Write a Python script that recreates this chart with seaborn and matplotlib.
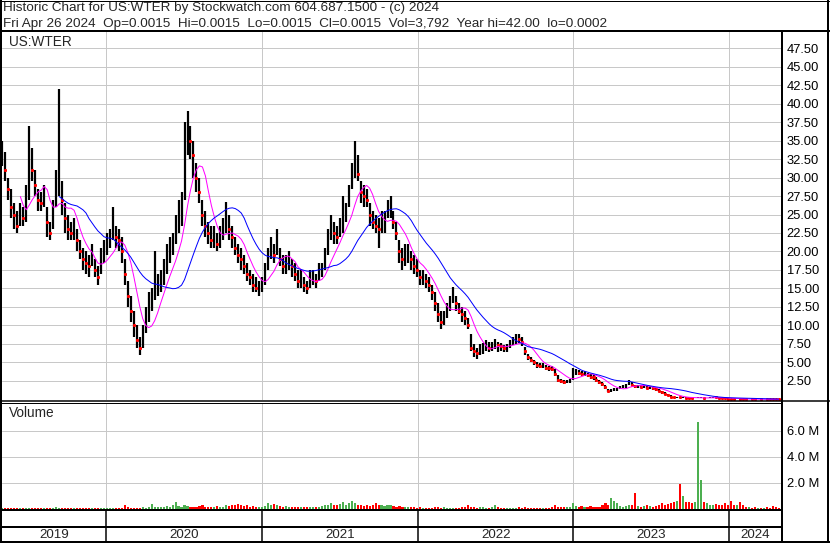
import numpy as np
import pandas as pd
import matplotlib
matplotlib.use("Agg")
import matplotlib.pyplot as plt
import matplotlib.ticker as mticker
from matplotlib.lines import Line2D
import seaborn as sns

# weekly bars, US:WTER, May 2019 - Apr 2024
dates = pd.date_range("2019-05-03", "2024-04-26", freq="W-FRI")

close = [33, 31, 28.5, 26, 25, 23.5, 25, 24.5, 27, 33,
         31, 29, 27, 26.5, 28, 24, 22.5, 25, 29, 30,
         27, 24.5, 23, 22.5, 23, 21.5, 20, 19, 18.5, 18,
         19.5, 17.5, 16.5, 19, 20, 21, 21.5, 23, 22, 21.5,
         20, 17, 14, 12, 10, 8, 7, 8.5, 10.5, 12,
         13.5, 15, 15.5, 16, 17, 19, 20, 21, 22.5, 24.5,
         26, 32, 37, 35, 33, 30, 28, 25, 23.5, 22.5,
         21.5, 22, 21, 22, 23, 24.5, 23, 22, 20.5, 19.5,
         19, 18, 17, 16.5, 15.5, 15, 15, 15.5, 17, 19,
         20.5, 19.5, 21, 19, 18, 18.5, 19, 18, 17, 16,
         16.5, 15.5, 15, 16, 16.5, 16, 17, 17.5, 19, 21,
         23, 22.5, 22, 23, 24, 25, 27.5, 30, 32, 30.5,
         28, 27.5, 27, 25, 24, 23.5, 23, 23.5, 24, 25.5,
         26, 24, 22.5, 20, 19, 19.5, 19.5, 19, 18, 17.5,
         16.5, 16.5, 16, 15.5, 14.5, 13, 11.5, 10.5, 11, 12,
         13, 14, 13, 12, 11.5, 11, 10, 7, 6.5, 6.3,
         6.8, 7, 7.3, 7, 7.2, 7.5, 7.3, 7.2, 6.9, 7.0,
         7.6, 7.8, 8.3, 8.2, 7.8, 6.5, 5.7, 5.3, 5.0, 4.7,
         4.5, 4.5, 4.3, 4.2, 4.1, 3.5, 2.7, 2.5, 2.4, 2.4,
         2.5, 3.6, 3.7, 3.6, 3.5, 3.5, 3.3, 3.1, 3.0, 2.7,
         2.4, 2.1, 1.7, 1.15, 1.25, 1.3, 1.4, 1.6, 1.7, 1.9,
         2.3, 2.0, 1.8, 1.8, 1.7, 1.7, 1.6, 1.6, 1.5, 1.4,
         1.2, 1.0, 0.8, 0.6, 0.4, 0.3, 0.3, 0.28, 0.29, 0.25,
         0.22, 0.2, 0.2, 0.22, 0.23, 0.2, 0.2, 0.25, 0.3, 0.28,
         0.25, 0.2, 0.15, 0.12, 0.1, 0.08, 0.08, 0.07, 0.06, 0.05,
         0.05, 0.04, 0.03, 0.03, 0.02, 0.02, 0.01, 0.008, 0.005, 0.003,
         0.0015]

high = [35, 33.5, 30, 28.5, 26.5, 25.5, 26.5, 26, 29, 37,
        34, 31, 28.5, 28, 29, 26, 24, 27, 31, 42,
        29.5, 26.5, 25, 24, 24.5, 23, 21.5, 20.5, 20, 19.5,
        21, 19, 18, 20.5, 21.5, 22.5, 23, 26, 23.5, 23,
        22, 19, 16, 14, 12, 10, 8.5, 10, 12.5, 14.5,
        15, 20, 17, 17.5, 19, 21, 22, 22.5, 25, 27,
        28, 37.5, 39, 37, 35, 32, 30, 27, 25.5, 24,
        23.5, 23.5, 22.5, 23.5, 24.5, 26.7, 25, 23.5, 22, 21,
        20.5, 19.5, 18.5, 17.5, 17, 16.5, 16, 16.5, 18.5, 20.5,
        22, 21, 23, 20.5, 19.5, 19.5, 20, 19, 18.5, 17.5,
        17.5, 16.5, 16, 17.5, 17.5, 17, 18.5, 18.5, 20.5, 23,
        25, 24, 23.5, 24.5, 27.5, 26.5, 29, 32, 35, 33,
        29.5, 29, 28.5, 26.5, 25.5, 25, 24.5, 25.5, 25.5, 27,
        27.5, 25.5, 24, 21.5, 20.5, 21, 21, 20, 19.5, 19,
        17.5, 17.5, 17, 16.5, 15.5, 14.5, 13, 12, 12, 13,
        14, 15.2, 14, 13, 12.5, 12, 11, 8.8, 7.5, 7,
        7.5, 7.6, 8, 7.8, 7.8, 8.2, 7.8, 7.6, 7.4, 7.5,
        8, 8.5, 8.8, 8.8, 8.5, 7.1, 6.2, 5.8, 5.4, 5.0,
        4.9, 4.9, 4.7, 4.5, 4.5, 4.1, 3.3, 2.8, 2.7, 2.6,
        2.8, 4.2, 4.1, 4.0, 3.9, 3.8, 3.6, 3.4, 3.3, 3.0,
        2.7, 2.4, 2.0, 1.4, 1.45, 1.5, 1.6, 1.8, 1.9, 2.1,
        2.6, 2.3, 2.0, 2.0, 1.9, 1.9, 1.8, 1.8, 1.7, 1.6,
        1.4, 1.2, 1.0, 0.8, 0.55, 0.4, 0.38, 0.35, 0.36, 0.3,
        0.28, 0.25, 0.25, 0.28, 0.3, 0.25, 0.26, 0.32, 0.36, 0.34,
        0.3, 0.25, 0.2, 0.16, 0.13, 0.11, 0.1, 0.09, 0.08, 0.07,
        0.06, 0.05, 0.04, 0.04, 0.03, 0.03, 0.02, 0.012, 0.008, 0.005,
        0.0015]

low = [31.5, 29.5, 27, 24.5, 23, 22.5, 23.5, 23.5, 24, 27,
       29.5, 27.5, 25.5, 25.5, 26, 22, 21.5, 23, 26, 27.5,
       25, 22.5, 21.5, 21.5, 21.5, 20, 19, 17.5, 17, 16.5,
       18, 16.5, 15.5, 17, 18.5, 19.5, 20.5, 21.5, 20.5, 20,
       18.5, 15.5, 12.5, 10.5, 8.5, 7, 6, 7, 9, 10.5,
       12, 13.5, 14, 14.5, 15.5, 17, 18.5, 19.5, 21, 22.5,
       23.5, 27, 33, 32.5, 30, 28, 26.5, 23.5, 22, 21,
       20.5, 20.5, 20, 20.5, 21.5, 22.5, 21.5, 20.5, 19.5, 18.5,
       17.5, 17, 16, 15.5, 14.5, 14.5, 14, 14.5, 15.5, 17.5,
       19, 18.5, 19.5, 18, 17, 17, 17.5, 16.5, 16, 15,
       15, 14.5, 14.3, 15, 15.5, 15, 16, 16.5, 17.5, 19.5,
       21.5, 21, 21, 22, 22.5, 24, 26, 28.5, 30, 29.5,
       26.5, 26, 26, 23.5, 23, 22.5, 20.5, 22.5, 22.5, 24.5,
       24.5, 23, 21.5, 18.5, 17.5, 18, 18.5, 17.5, 17, 16.5,
       15.5, 15.5, 15, 14.5, 13.5, 12, 10.5, 9.5, 10, 11,
       12, 13, 12, 11.5, 10.5, 10, 9.5, 6.5, 5.8, 5.5,
       6, 6.2, 6.5, 6.4, 6.6, 6.8, 6.4, 6.6, 6.4, 6.4,
       7, 7.3, 7.5, 7.6, 7.2, 6.0, 5.3, 5.0, 4.7, 4.3,
       4.2, 4.2, 4.0, 3.9, 3.8, 3.2, 2.4, 2.2, 2.1, 2.2,
       2.2, 2.6, 3.3, 3.3, 3.2, 3.2, 3.0, 2.8, 2.7, 2.4,
       2.1, 1.8, 1.4, 1.0, 1.05, 1.1, 1.2, 1.4, 1.5, 1.6,
       1.9, 1.8, 1.6, 1.6, 1.5, 1.5, 1.4, 1.4, 1.3, 1.2,
       1.0, 0.8, 0.6, 0.45, 0.3, 0.22, 0.22, 0.22, 0.23, 0.2,
       0.18, 0.16, 0.16, 0.18, 0.19, 0.16, 0.16, 0.2, 0.25, 0.23,
       0.2, 0.16, 0.12, 0.09, 0.08, 0.06, 0.06, 0.05, 0.045, 0.04,
       0.035, 0.03, 0.02, 0.02, 0.015, 0.01, 0.007, 0.005, 0.003, 0.002,
       0.0015]

# volume in millions
volume = [0.04, 0.05, 0.03, 0.04, 0.06, 0.05, 0.04, 0.03, 0.05, 0.07,
          0.05, 0.04, 0.04, 0.03, 0.05, 0.04, 0.06, 0.05, 0.1, 0.06,
          0.04, 0.05, 0.04, 0.03, 0.04, 0.05, 0.04, 0.03, 0.04, 0.05,
          0.04, 0.03, 0.05, 0.08, 0.04, 0.04, 0.05, 0.06, 0.05, 0.04,
          0.07, 0.28, 0.1, 0.08, 0.06, 0.05, 0.08, 0.1, 0.09, 0.12,
          0.36, 0.15, 0.1, 0.12, 0.1, 0.2, 0.15, 0.25, 0.5, 0.2,
          0.15, 0.3, 0.2, 0.15, 0.1, 0.12, 0.2, 0.3, 0.15, 0.1,
          0.12, 0.15, 0.2, 0.12, 0.15, 0.25, 0.2, 0.3, 0.25, 0.35,
          0.3, 0.2, 0.3, 0.15, 0.2, 0.12, 0.1, 0.15, 0.2, 0.45,
          0.3, 0.35, 0.3, 0.2, 0.15, 0.2, 0.15, 0.1, 0.12, 0.15,
          0.1, 0.12, 0.1, 0.15, 0.12, 0.1, 0.15, 0.2, 0.25, 0.3,
          0.4, 0.25, 0.3, 0.35, 0.5, 0.3, 0.45, 0.6, 0.4, 0.3,
          0.25, 0.2, 0.25, 0.2, 0.3, 0.4, 0.3, 0.25, 0.2, 0.3,
          0.25, 0.2, 0.15, 0.2, 0.15, 0.12, 0.1, 0.12, 0.1, 0.08,
          0.1, 0.08, 0.07, 0.06, 0.08, 0.1, 0.12, 0.08, 0.1, 0.06,
          0.08, 0.07, 0.06, 0.08, 0.1, 0.15, 0.3, 0.15, 0.1, 0.08,
          0.1, 0.12, 0.08, 0.07, 0.1, 0.3, 0.12, 0.08, 0.07, 0.06,
          0.08, 0.07, 0.06, 0.1, 0.08, 0.1, 0.08, 0.07, 0.06, 0.05,
          0.06, 0.07, 0.05, 0.06, 0.1, 0.25, 0.15, 0.1, 0.12, 0.1,
          0.15, 0.4, 0.2, 0.15, 0.2, 0.12, 0.15, 0.2, 0.15, 0.1,
          0.15, 0.3, 0.4, 0.3, 0.8, 0.6, 0.4, 0.2, 0.15, 0.2,
          0.25, 0.3, 1.2, 0.2, 0.15, 0.2, 0.25, 0.2, 0.15, 0.2,
          0.3, 0.4, 0.3, 0.35, 0.4, 0.5, 0.6, 1.9, 1.0, 0.5,
          0.5, 0.4, 0.5, 6.7, 2.2, 0.5, 0.4, 0.3, 0.3, 0.35,
          0.25, 0.3, 0.4, 0.3, 0.6, 0.3, 0.25, 0.55, 0.3, 0.15,
          0.1, 0.08, 0.1, 0.08, 0.07, 0.08, 0.1, 0.08, 0.2, 0.1,
          0.05]

years = ["2019", "2020", "2021", "2022", "2023", "2024"]
price_ticks = np.arange(2.5, 47.51, 2.5)
volume_ticks = [2, 4, 6]

header1 = "Historic Chart for US:WTER by Stockwatch.com 604.687.1500 - (c) 2024"
header2 = ("Fri Apr 26 2024  Op=0.0015  Hi=0.0015  Lo=0.0015  Cl=0.0015  "
           "Vol=3,792  Year hi=42.00  lo=0.0002")

df = pd.DataFrame({"date": dates, "high": high, "low": low,
                   "close": close, "volume": volume})
df["ma_fast"] = df["close"].rolling(7).mean()
df["ma_slow"] = df["close"].rolling(20).mean()
df["down"] = df["close"] < df["close"].shift(1)

sns.set_style("white")
plt.rcParams["font.family"] = ["Liberation Sans", "DejaVu Sans"]

W, H = 830, 543
PX = 0.72  # one pixel in points
fig = plt.figure(figsize=(W / 100, H / 100), dpi=100)


def px_axes(x0, y0, x1, y1):
    return fig.add_axes([x0 / W, 1 - y1 / H, (x1 - x0) / W, (y1 - y0) / H])


def fig_line(x0, y0, x1, y1, w=1.0):
    fig.add_artist(Line2D([x0 / W, x1 / W], [1 - y0 / H, 1 - y1 / H],
                          transform=fig.transFigure, color="black",
                          lw=w * PX, solid_capstyle="butt"))


x_left = pd.Timestamp("2019-05-02")
x_right = pd.Timestamp("2024-05-04")
year_starts = [pd.Timestamp(f"{y}-01-01") for y in years[1:]]
grid_kw = dict(color="#c8c8c8", lw=PX)

# price panel
ax = px_axes(2, 31, 782, 400)
ax.set_xlim(x_left, x_right)
ax.set_ylim(-0.07, 49.8)
for v in price_ticks:
    ax.axhline(v, zorder=0, **grid_kw)
for d in year_starts:
    ax.axvline(d, zorder=0, **grid_kw)
ax.vlines(df["date"], df["low"], df["high"], color="black", lw=2.2 * PX, zorder=2)
dn = df[df["down"]]
ax.plot(dn["date"], dn["close"], ls="none", marker="s", ms=1.6 * PX,
        color="red", zorder=3)
sns.lineplot(data=df, x="date", y="ma_fast", ax=ax, color="#ff00ff", lw=PX, zorder=4)
sns.lineplot(data=df, x="date", y="ma_slow", ax=ax, color="#0000ff", lw=PX, zorder=4)
ax.set_xlabel("")
ax.set_ylabel("")
ax.set_xticks([])
ax.yaxis.tick_right()
ax.set_yticks(price_ticks)
ax.yaxis.set_major_formatter(mticker.FormatStrFormatter("%.2f"))
ax.tick_params(axis="y", length=0, pad=3.4, labelsize=9.3, colors="black")
for s in ax.spines.values():
    s.set_visible(False)
ax.text(7 / 780, 1 - 11.5 / 369, "US:WTER", transform=ax.transAxes,
        fontsize=9.8, va="center", ha="left")

# volume panel
axv = px_axes(2, 403, 782, 510)
axv.set_xlim(x_left, x_right)
axv.set_ylim(-0.1, 8.13)
for v in volume_ticks:
    axv.axhline(v, zorder=0, **grid_kw)
for d in year_starts:
    axv.axvline(d, zorder=0, **grid_kw)
vol_colors = np.where(df["down"], "#ff0000", "#4caf50")
axv.bar(df["date"], df["volume"], width=5, color=vol_colors, linewidth=0, zorder=2)
axv.set_xticks([])
axv.yaxis.tick_right()
axv.set_yticks(volume_ticks)
axv.set_yticklabels([f"{v:.1f} M" for v in volume_ticks])
axv.tick_params(axis="y", length=0, pad=3.4, labelsize=9.3, colors="black")
for s in axv.spines.values():
    s.set_visible(False)
axv.text(7 / 780, 1 - 10 / 107, "Volume", transform=axv.transAxes,
         fontsize=9.8, va="center", ha="left")

# year strip
axy = px_axes(2, 510, 782, 541)
axy.set_xlim(x_left, x_right)
axy.set_ylim(0, 1)
axy.axis("off")
edges = [x_left] + year_starts + [x_right]
for lab, a, b in zip(years, edges[:-1], edges[1:]):
    mid = a + (b - a) / 2
    axy.text(mid, 6 / 31, lab, ha="center", va="center", fontsize=9.6)
for d in year_starts:
    axy.axvline(d, color="black", lw=1.5 * PX)

# header
fig.text(3 / W, 1 - 11.5 / H, header1, fontsize=9.7, va="baseline", ha="left")
fig.text(3 / W, 1 - 27.5 / H, header2, fontsize=9.7, va="baseline", ha="left")

# frame lines
fig_line(1, 0, 1, H, 2)
fig_line(827.5, 0, 827.5, H, 2)
fig_line(0, 0.5, W, 0.5, 1)
fig_line(0, 541.5, W, 541.5, 2)
fig_line(0, 31, W, 31, 2)
fig_line(782, 31, 782, H, 2)
fig_line(0, 400.5, W, 400.5, 1.5)
fig_line(0, 403, 782, 403, 1)
fig_line(0, 510, 782, 510, 2)
fig_line(0, 526.5, 782, 526.5, 2)

fig.savefig("out.png", dpi=100, facecolor="white")
